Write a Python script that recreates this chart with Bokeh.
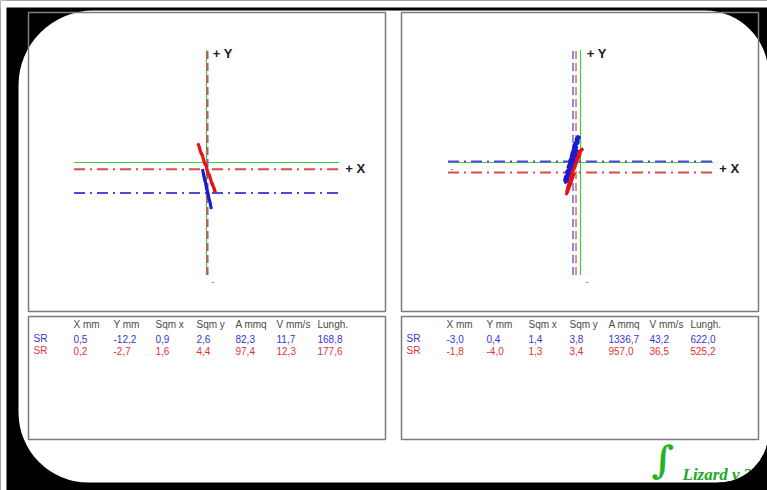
import math
from bokeh.plotting import figure
from bokeh.models import Range1d, BoxAnnotation
from bokeh.core.properties import value
from bokeh.embed import file_html
from bokeh.resources import INLINE

# ---------------- data ----------------
columns = ["X mm", "Y mm", "Sqm x", "Sqm y", "A mmq", "V mm/s", "Lungh."]
row_label = "SR"
left_blue = [0.5, -12.2, 0.9, 2.6, 82.3, 11.7, 168.8]
left_red = [0.2, -2.7, 1.6, 4.4, 97.4, 12.3, 177.6]
right_blue = [-3.0, 0.4, 1.4, 3.8, 1336.7, 43.2, 622.0]
right_red = [-1.8, -4.0, 1.3, 3.4, 957.0, 36.5, 525.2]

axis_x_mm = 53
axis_y_mm = 45

# sway traces (mm)
left_red_x = [-3.5, -2.9, -2.2, -1.5, -0.9, -0.2, 0.5, 1.1, 1.8, 2.5, 3.2, 3.6, 3.0, 2.2, 1.4, 0.7, 0.0,
              -0.8, -1.6, -2.4, -3.0, -2.6, -1.8, -1.0, -0.3, 0.4, 1.2, 2.0, 2.7, 2.1, 1.3, 0.6, -0.1]
left_red_y = [7.7, 6.4, 3.7, 2.5, 0.0, -1.2, -3.9, -4.8, -7.6, -8.7, -11.5, -12.0, -10.1, -8.7, -5.7, -4.5, -1.7,
              -0.3, 2.7, 4.2, 6.6, 4.7, 3.3, 0.3, -0.9, -3.7, -5.1, -8.1, -9.3, -8.4, -5.4, -4.2, -1.5]
left_blue_x = [-1.6, -1.2, -0.8, -0.4, 0.0, 0.4, 0.8, 1.2, 1.6, 2.0, 1.7, 1.3, 0.9, 0.5, 0.1, -0.3, -0.7,
               -1.1, -1.4, -1.0, -0.6, -0.2, 0.3, 0.7, 1.1, 1.5, 1.8, 1.4, 1.0, 0.6]
left_blue_y = [-2.6, -4.9, -6.8, -8.1, -10.4, -11.8, -13.9, -15.1, -17.2, -18.6, -17.5, -15.4, -14.0, -11.9,
               -10.5, -8.2, -6.9, -4.8, -3.5, -5.3, -7.2, -8.7, -11.3, -12.6, -14.8, -16.2, -17.9, -16.1, -14.3, -12.8]
right_blue_x = [-6.6, -5.0, -6.2, -4.5, -5.6, -3.9, -5.0, -3.3, -4.4, -2.7, -3.7, -2.1, -3.0, -1.6, -2.3, -1.0,
                -1.6, -0.5, -1.2, -2.6, -1.8, -3.4, -2.4, -4.1, -3.1, -4.7, -3.6, -5.3, -4.2, -5.9, -4.9, -6.4,
                -5.5, -4.6, -3.7, -2.9, -2.0, -1.3]
right_blue_y = [-8.0, -7.2, -6.0, -5.0, -3.8, -2.9, -1.6, -0.8, 0.6, 1.4, 2.8, 3.6, 5.0, 5.8, 7.2, 8.0,
                9.4, 10.6, 9.0, 6.5, 4.6, 3.9, 2.0, 1.2, -0.4, -1.0, -2.6, -3.4, -4.8, -5.6, -6.8, -7.4,
                -6.1, -3.9, -1.8, 0.2, 2.6, 5.2]
right_red_x = [-5.9, -5.0, -5.3, -4.3, -4.6, -3.6, -3.9, -2.9, -3.1, -2.2, -2.4, -1.4, -1.6, -0.6, -0.8, 0.2,
               1.0, 0.0, -0.4, -1.2, -1.8, -2.6, -3.3, -3.9, -4.6, -5.2, -5.6, -4.8, -4.0, -3.2, -2.4]
right_red_y = [-13.0, -11.6, -10.4, -9.2, -8.0, -6.8, -5.6, -4.4, -3.2, -2.0, -0.8, 0.4, 1.6, 2.8, 4.0, 5.0,
               5.6, 4.4, 2.6, 1.0, -0.6, -2.6, -4.2, -6.4, -8.4, -10.2, -12.0, -10.8, -8.6, -6.2, -4.0]

# ---------------- styles / layout ----------------
W, H = 767, 490
OX, OY = 0, 0
SCALE = 2.5  # px per mm
GREEN = "#3ccf3c"
BLUE_TXT = "#3434dc"
RED_TXT = "#e03434"
BLUE_TR = "#1a1ad0"
RED_TR = "#e81010"
FONT = value("Liberation Sans")

p = figure(width=W, height=H, x_range=Range1d(OX, OX + W), y_range=Range1d(OY + H, OY),
           output_backend="svg", toolbar_location=None, min_border=0,
           x_axis_location=None, y_axis_location=None,
           background_fill_color="black", border_fill_color="black", outline_line_color=None)
p.grid.grid_line_color = None

panels = {"L": dict(cx=206, cy=162, box=28, blue=left_blue, red=left_red,
                    bx=left_blue_x, by=left_blue_y, rx=left_red_x, ry=left_red_y, bw=3, rw=3),
          "R": dict(cx=580, cy=162, box=401, blue=right_blue, red=right_red,
                    bx=right_blue_x, by=right_blue_y, rx=right_red_x, ry=right_red_y, bw=4, rw=3)}
p.extra_x_ranges = {k: Range1d((OX - d["cx"]) / SCALE, (OX + W - d["cx"]) / SCALE) for k, d in panels.items()}
p.extra_y_ranges = {"mm": Range1d((162 - (OY + H)) / SCALE, (162 - OY) / SCALE)}

# page margins of the screenshot (white strips at top and left)
p.add_layout(BoxAnnotation(left=0, right=767, top=0, bottom=7, fill_color="white", fill_alpha=1,
                           line_color=None, level="underlay"))
p.add_layout(BoxAnnotation(left=0, right=6, top=0, bottom=490, fill_color="white", fill_alpha=1,
                           line_color=None, level="underlay"))
# white rounded screen
BR_CX, BR_CY, BR_R = 718, 432, 50
p.add_layout(BoxAnnotation(left=18, right=768, top=10, bottom=482, fill_color="white", fill_alpha=1,
                           line_color=None, level="underlay",
                           border_radius=dict(top_left=75, top_right=64, bottom_right=BR_R, bottom_left=70)))

def fmt(v):
    return f"{v:.1f}".replace(".", ",")

COL_OFF = [45, 85, 127, 168, 207, 248, 289]
for k, d in panels.items():
    bl = d["box"]
    # frames
    p.quad(left=[bl, bl], right=[bl + 357, bl + 357], top=[12, 316], bottom=[311, 439],
           fill_color=None, line_color="#7c7c7c", line_width=1.5)
    kw = dict(x_range_name=k, y_range_name="mm")
    # axes
    p.line([-axis_x_mm, axis_x_mm], [0, 0], line_color=GREEN, line_width=1.2, **kw)
    p.line([0, 0], [-axis_y_mm, axis_y_mm], line_color=GREEN, line_width=1.2, **kw)
    # mean lines
    for vals, col in ((d["blue"], "#4a4ae0"), (d["red"], "#e04a4a")):
        p.line([-axis_x_mm, axis_x_mm], [vals[1], vals[1]], line_color=col, line_width=1.8,
               line_dash="11 5 2 5", **kw)
        p.line([vals[0], vals[0]], [-axis_y_mm, axis_y_mm], line_color=col, line_width=1.6,
               line_alpha=0.8, line_dash="8 4", **kw)
    # traces
    p.line(d["bx"], d["by"], line_color=BLUE_TR, line_width=d["bw"], **kw)
    p.line(d["rx"], d["ry"], line_color=RED_TR, line_width=d["rw"], **kw)
    # axis labels
    p.text(x=[axis_x_mm + 2.5, 2.5], y=[-2.4, axis_y_mm - 1.4], text=["+ X", "+ Y"],
           text_font=FONT, text_font_size="13px", text_font_style="bold", text_color="#202020",
           text_baseline="middle", text_align="left", **kw)
    p.text(x=[2.0, -axis_x_mm + 1], y=[-axis_y_mm - 2.6, -2.4], text=["-", "-"],
           text_font=FONT, text_font_size="9px", text_color="#606060",
           text_baseline="middle", text_align="left", **kw)
    # table
    xs = [bl + o for o in COL_OFF]
    p.text(x=xs, y=[324] * len(xs), text=columns, text_font=FONT, text_font_size="10px",
           text_color="#4a4a4a", text_baseline="middle", text_align="left")
    for vals, col, yy in ((d["blue"], BLUE_TXT, 338), (d["red"], RED_TXT, 350)):
        p.text(x=[bl + 5] + xs, y=[yy] * (len(xs) + 1), text=[row_label] + [fmt(v) for v in vals],
               text_font=FONT, text_font_size="10px", text_color=col,
               text_baseline="middle", text_align="left")

# logo
p.text(x=[662], y=[459], text=["\u222b"], text_font=value("DejaVu Serif"), text_font_size="38px",
       text_font_style="bold", text_color="#22b422", text_baseline="middle", text_align="center")
p.text(x=[682], y=[474], text=["Lizard v.2"], text_font=value("Liberation Serif"), text_font_size="17px",
       text_font_style="bold italic", text_color="#22a822", text_baseline="alphabetic", text_align="left")
# black rounded corner over the logo
p.annular_wedge(x=[BR_CX], y=[BR_CY], inner_radius=BR_R, outer_radius=200, start_angle=-math.pi / 2,
                end_angle=0, fill_color="black", line_color=None)

open("out.html", "w").write(file_html(p, INLINE))
